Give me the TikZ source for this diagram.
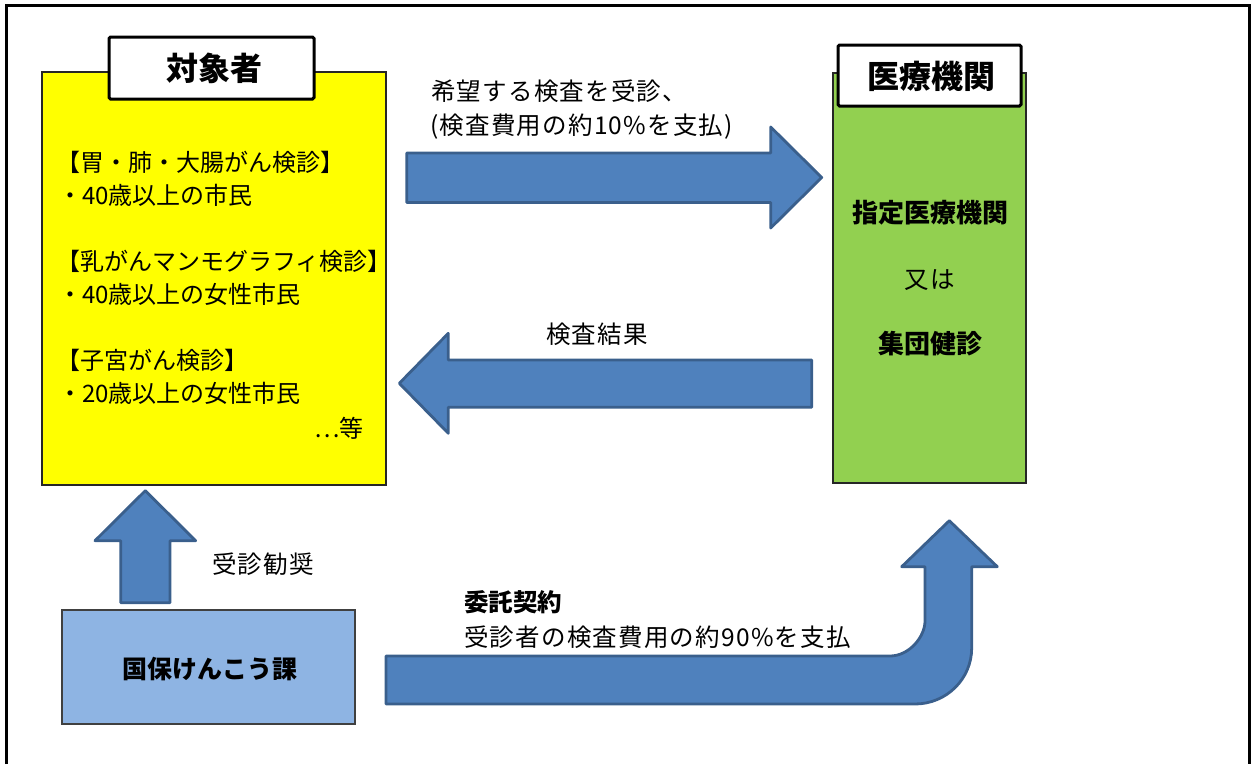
\documentclass[tikz,border=0pt]{standalone}
\usepackage{fontspec}
\setmainfont{Noto Sans CJK JP}
\definecolor{yfill}{HTML}{FFFF00}
\definecolor{gfill}{HTML}{92D050}
\definecolor{afill}{HTML}{4F81BD}
\definecolor{aline}{HTML}{3A5F8C}
\definecolor{bfill}{HTML}{8EB4E3}
\definecolor{bline}{HTML}{404040}
\tikzset{
  frameline/.style={line width=3pt, draw=black},
  panel/.style={draw=black!85, line width=1.3pt, inner sep=0pt},
  titlebox/.style={draw=black, line width=3pt, fill=white, rounded corners=1.5pt, inner sep=0pt},
  titletext/.style={inner sep=0pt, font=\fontsize{32}{32}\selectfont\bfseries},
  bodytext/.style={inner sep=0pt, anchor=west, font=\fontsize{24}{24}\selectfont},
  greentext/.style={inner sep=0pt, font=\fontsize{26}{26}\selectfont\bfseries},
  labeltext/.style={inner sep=0pt, font=\fontsize{24.5}{24.5}\selectfont\addfontfeatures{LetterSpace=5}},
  blockarrow/.style={fill=afill, draw=aline, line width=2.8pt, line join=round},
}
\begin{document}
\begin{tikzpicture}[x=1pt,y=-1pt]
\useasboundingbox (0,0) rectangle (1251,764);
% outer frame (open at bottom)
\draw[frameline] (6.5,764) -- (6.5,5.5) -- (1249.5,5.5) -- (1249.5,764);

% target panel
\node[panel, fill=yfill, minimum width=344pt, minimum height=413pt] (target) at (214,278.5) {};
\node[titlebox, minimum width=205pt, minimum height=62pt] (targettitle) at (211.5,68) {};
\node[titletext] (targetlabel) at (214,68) {対象者};
\node[bodytext] (t1) at (56,162) {【胃・肺・大腸がん検診】};
\node[bodytext] (t2) at (58,195) {・40歳以上の市民};
\node[bodytext] (t3) at (56,261) {【乳がんマンモグラフィ検診】};
\node[bodytext] (t4) at (58,294) {・40歳以上の女性市民};
\node[bodytext] (t5) at (56,360) {【子宮がん検診】};
\node[bodytext] (t6) at (58,393) {・20歳以上の女性市民};
\node[bodytext, anchor=east] (t7) at (364,428) {…等};

% medical institution panel
\node[panel, fill=gfill, minimum width=193pt, minimum height=410pt] (clinic) at (929.5,278) {};
\node[titlebox, minimum width=183pt, minimum height=61pt] (clinictitle) at (929.5,75.5) {};
\node[titletext] (cliniclabel) at (931,76) {医療機関};
\node[greentext] (g1) at (930,213) {指定医療機関};
\node[labeltext] (g2) at (930,280) {又は};
\node[greentext] (g3) at (930,344) {集団健診};

% office box
\node[draw=bline, line width=1.5pt, fill=bfill, minimum width=293pt, minimum height=114pt, inner sep=0pt] (office) at (208.3,667) {};
\node[inner sep=0pt, font=\fontsize{25}{25}\selectfont\bfseries] (officelabel) at (210,669) {国保けんこう課};

% arrow: target -> clinic
\draw[blockarrow] (406.7,153) -- (770.7,153) -- (770.7,127) -- (821.7,177.5) -- (770.7,228) -- (770.7,202.5) -- (406.7,202.5) -- cycle;
\node[labeltext, anchor=west] (a1a) at (431,91) {希望する検査を受診、};
\node[labeltext, anchor=west] (a1b) at (430,127) {(検査費用の約10\%を支払)};

% arrow: clinic -> target
\draw[blockarrow] (811.7,360) -- (448.3,360) -- (448.3,333.3) -- (399.3,383.3) -- (448.3,433.3) -- (448.3,407.3) -- (811.7,407.3) -- cycle;
\node[labeltext] (a2) at (597,334) {検査結果};

% arrow: office -> target
\draw[blockarrow] (120.7,602.7) -- (120.7,540.7) -- (95,540.7) -- (145.3,490.7) -- (195.7,540.7) -- (170,540.7) -- (170,602.7) -- cycle;
\node[labeltext] (a3) at (263,564) {受診勧奨};

% bent arrow: office -> clinic
\draw[blockarrow] (386,656) -- (890,656) .. controls (909.3,656) and (925,636.7) .. (925,621) -- (925,566.7) -- (901.7,566.7) -- (949.3,520.7) -- (997.3,566.7) -- (971.7,566.7) -- (971.7,648) .. controls (971.7,679) and (946.3,704) .. (915,704) -- (386,704) -- cycle;
\node[inner sep=0pt, anchor=west, font=\fontsize{24.5}{24.5}\selectfont\bfseries] (a4a) at (464,602) {委託契約};
\node[labeltext, anchor=west] (a4b) at (464,637) {受診者の検査費用の約90\%を支払};
\end{tikzpicture}
\end{document}
